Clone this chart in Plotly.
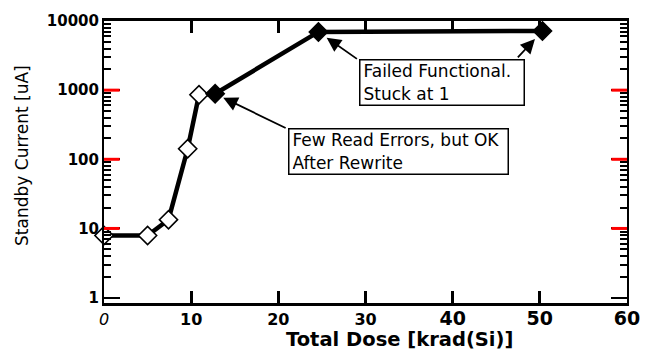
import numpy as np
import plotly.graph_objects as go

# Data
dose = [0, 5, 7.4, 9.6, 10.9, 12.75, 24.6, 50.3]          # krad(Si)
current = [7.9, 7.9, 13.4, 142, 858, 887, 6950, 7180]      # uA
filled = [False, False, False, False, False, True, True, True]

x_tickvals = [0, 10, 20, 30, 40, 50, 60]
x_ticklabels = ["0", "10", "20", "30", "40", "50", "60"]
y_tickvals = [1, 10, 100, 1000, 10000]
y_ticklabels = ["1", "10", "100", "1000", "10000"]
y_minor_mult = [2, 3, 4, 5, 6, 7, 8, 9]

note_failed = "Failed Functional.<br>Stuck at 1"
note_read = "Few Read Errors, but OK<br>After Rewrite"
x_title = "Total Dose [krad(Si)]"
y_title = "Standby Current [uA]"

FONT = "DejaVu Sans"
YRANGE = [-0.078, 4]
PLOT_W = 652 - 104 - 13

fig = go.Figure()
fig.add_trace(go.Scatter(
    x=dose, y=current, mode="lines+markers",
    line=dict(color="black", width=4.5),
    marker=dict(symbol="diamond", size=14,
                color=["black" if f else "white" for f in filled],
                line=dict(color="black", width=1.6)),
    cliponaxis=False, showlegend=False,
))

def xlab(t):
    if t == "0":
        return "<i>0</i>"
    if t in ("40", "50", "60"):
        return "<b><span style='font-size:19px'>%s</span></b>" % t
    return "<b>%s</b>" % t

minor_y = [m * d for d in y_tickvals[:-1] for m in y_minor_mult]
major_inner = y_tickvals[1:-1]

fig.update_layout(
    xaxis=dict(
        range=[0, 60], tickmode="array", tickvals=x_tickvals,
        ticktext=[xlab(t) for t in x_ticklabels],
        ticks="inside", ticklen=12, tickwidth=2.5, tickcolor="black",
        showline=True, linewidth=2.5, linecolor="black", mirror="ticks",
        showgrid=False, zeroline=False,
        tickfont=dict(family=FONT, size=16, color="black"),
    ),
    yaxis=dict(
        type="log", range=YRANGE, tickmode="array", tickvals=y_tickvals,
        ticktext=["<b>%s</b>" % t for t in y_ticklabels],
        ticks="inside", ticklen=16, tickwidth=2, tickcolor="black",
        showline=True, linewidth=2, linecolor="black", mirror="ticks",
        showgrid=False, zeroline=False,
        tickfont=dict(family=FONT, size=15, color="black"),
    ),
    # minor ticks (2..9 of each decade)
    yaxis2=dict(type="log", range=YRANGE, overlaying="y", side="left",
                tickmode="array", tickvals=minor_y, showticklabels=False,
                ticks="inside", ticklen=7, tickwidth=1.5, tickcolor="black",
                showline=False, mirror="ticks", showgrid=False, zeroline=False),
)
fig.add_trace(go.Scatter(x=[dose[0]], y=[current[0]], yaxis="y2", mode="markers",
                         marker=dict(opacity=0), hoverinfo="skip", showlegend=False))

# long decade ticks on both sides of the frame (paper coordinates from the log range)
tick_frac = 16 / PLOT_W
for v in major_inner:
    yp = (np.log10(v) - YRANGE[0]) / (YRANGE[1] - YRANGE[0])
    for x0, x1 in ((0, tick_frac), (1 - tick_frac, 1)):
        fig.add_shape(type="line", xref="paper", yref="paper", x0=x0, x1=x1,
                      y0=yp, y1=yp, line=dict(color="red", width=3), layer="above")

box_style = dict(xref="paper", yref="paper", showarrow=False, align="left",
                 xanchor="left", yanchor="top", bordercolor="black",
                 borderwidth=1.5, borderpad=3, bgcolor="white",
                 font=dict(family=FONT, size=17, color="black"))
fig.add_annotation(text=note_failed, x=0.487, y=0.866, width=157, height=38, **box_style)
fig.add_annotation(text=note_read, x=0.351, y=0.62, width=212, height=38, **box_style)

arrow_style = dict(xref="x", yref="y", text="", showarrow=True, arrowhead=2,
                   arrowsize=1.6, arrowwidth=1.8, arrowcolor="black")
fig.add_annotation(x=dose[5], y=np.log10(current[5]), ax=72, ay=35, standoff=9, **arrow_style)
fig.add_annotation(x=dose[6], y=np.log10(current[6]), ax=40, ay=28, standoff=10, **arrow_style)
fig.add_annotation(x=dose[7], y=np.log10(current[7]), ax=-26, ay=28, standoff=11, **arrow_style)

fig.add_annotation(text="<b>" + x_title + "</b>", xref="paper", yref="paper",
                   x=(406 - 104) / PLOT_W, y=(303 - 340) / 284, showarrow=False,
                   xanchor="center", yanchor="middle",
                   font=dict(family=FONT, size=19.5, color="black"))
fig.add_annotation(text=y_title, xref="paper", yref="paper",
                   x=(20 - 104) / PLOT_W, y=(303 - 154) / 284, showarrow=False,
                   textangle=-90, xanchor="center", yanchor="middle",
                   font=dict(family=FONT, size=17, color="black"))

fig.update_layout(
    width=652, height=352, autosize=False,
    margin=dict(l=104, r=13, t=19, b=49),
    paper_bgcolor="white", plot_bgcolor="white",
)

fig.write_html("out.html")
